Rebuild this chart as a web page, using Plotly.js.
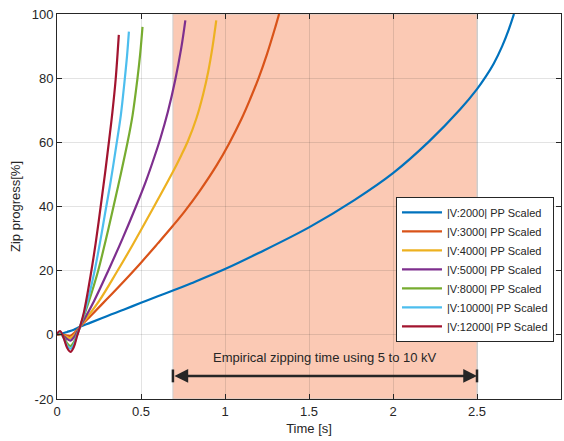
<!DOCTYPE html>
<html>
<head>
<meta charset="utf-8">
<script src="https://cdn.plot.ly/plotly-3.0.1.min.js"></script>
<style>
html,body{margin:0;padding:0;background:#fff;}
#chart{width:564px;height:441px;}
</style>
</head>
<body>
<div id="chart"></div>
<script>
// ---- data ----
const seriesNames = ["|V:2000| PP Scaled","|V:3000| PP Scaled","|V:4000| PP Scaled","|V:5000| PP Scaled","|V:8000| PP Scaled","|V:10000| PP Scaled","|V:12000| PP Scaled"];
const seriesColors = ["#0072BD","#D95319","#EDB120","#7E2F8E","#77AC30","#4DBEEE","#A2142F"];

const t2000 = [0,0.03,0.06,0.1,0.137,0.2,0.3,0.4,0.5,0.6,0.69,0.8,1.0,1.2,1.5,1.77,2.0,2.215,2.4,2.5,2.55,2.6,2.65,2.69,2.72];
const v2000 = [0,0.4,0.9,1.6,2.5,3.8,5.9,7.9,10.0,12.0,13.8,16.1,20.5,25.5,33.5,42,50.4,60.3,70.3,76.6,80.3,84.6,90,95.3,100];

const t3000 = [0,0.02,0.04,0.06,0.08,0.1,0.12,0.137,0.2,0.3,0.4,0.5,0.6,0.69,0.76,0.849,0.95,1.023,1.1,1.15,1.2,1.25,1.3,1.322];
const v3000 = [0,0.2,0,-0.2,-0.3,0.5,1.5,2.5,5.9,11.3,16.8,22.5,28.5,34,38.5,44.8,52.8,59.5,67.5,73.5,80,87.5,96,100];

const t4000 = [0,0.02,0.04,0.06,0.08,0.1,0.12,0.137,0.25,0.355,0.45,0.562,0.687,0.74,0.78,0.83,0.87,0.9,0.925,0.948];
const v4000 = [0,0.2,-0.2,-0.7,-1,-0.2,1.2,2.5,10.5,19.5,28,38.5,50.5,56,60.5,67.5,75,82,89.5,98];

const t5000 = [0,0.02,0.04,0.06,0.08,0.1,0.12,0.137,0.22,0.305,0.39,0.47,0.53,0.58,0.617,0.66,0.704,0.74,0.764];
const v5000 = [0,0.3,-0.4,-1.3,-1.8,-0.8,1,2.5,10.5,20,30,40,48,55.5,61.5,69.5,79.5,89.5,98];

const t8000 = [0,0.018,0.04,0.06,0.08,0.1,0.12,0.137,0.19,0.245,0.29,0.33,0.375,0.42,0.45,0.478,0.495,0.509];
const v8000 = [0.1,0.6,-0.8,-2.6,-3.5,-2.3,0.3,2.5,10.5,20,29.5,38.5,49,60,68.5,79.5,87.5,96];

const t10000 = [0,0.018,0.04,0.06,0.08,0.1,0.12,0.137,0.18,0.222,0.255,0.285,0.32,0.353,0.38,0.402,0.417,0.428];
const v10000 = [0.2,0.9,-1,-3.3,-4.3,-3,0,2.5,10,19.5,28.5,37.5,48,59,68.5,79,87,94.5];

const t12000 = [0,0.018,0.04,0.06,0.08,0.1,0.12,0.137,0.16,0.2,0.23,0.265,0.29,0.311,0.33,0.349,0.368];
const v12000 = [0.3,1.2,-1,-4,-5.3,-3.8,-0.3,2.5,7,18.5,28.5,42,52,61,69.5,79.5,93.5];

const seriesT = [t2000,t3000,t4000,t5000,t8000,t10000,t12000];
const seriesV = [v2000,v3000,v4000,v5000,v8000,v10000,v12000];

const xTickVals = [0,0.5,1,1.5,2,2.5,3];
const yTickVals = [-20,0,20,40,60,80,100];

const empiricalRange = [0.69, 2.5];
const arrowY = -12.8;
const arrowLabelY = -7;
const arrowLabel = "Empirical zipping time using 5 to 10 kV";

// ---- chart ----
const ink = "#262626";
const font = "Liberation Sans, Arial, Helvetica, sans-serif";

const traces = seriesNames.map((n,i)=>({
  type:"scatter", mode:"lines", name:n,
  x:seriesT[i], y:seriesV[i],
  line:{color:seriesColors[i], width:2.2, shape:"spline", smoothing:1}
}));

const axisCommon = {
  showline:true, linecolor:ink, linewidth:1, mirror:"ticks",
  ticks:"inside", ticklen:5, tickcolor:ink, tickwidth:1,
  showgrid:true, gridcolor:"rgba(38,38,38,0.13)", gridwidth:1,
  zeroline:false, tickfont:{family:font, size:13, color:ink}
};

const layout = {
  width:564, height:441,
  margin:{l:57, r:3, t:14, b:42},
  paper_bgcolor:"#fff", plot_bgcolor:"#fff",
  font:{family:font, color:ink},
  showlegend:true,
  xaxis:Object.assign({}, axisCommon, {
    range:[0,3], tickvals:xTickVals, ticktext:xTickVals.map(String),
    title:{text:"Time [s]", font:{family:font,size:13,color:ink}, standoff:6}
  }),
  yaxis:Object.assign({}, axisCommon, {
    range:[-20,100], tickvals:yTickVals, ticktext:yTickVals.map(String),
    title:{text:"Zip progress[%]", font:{family:font,size:13,color:ink}, standoff:8}
  }),
  legend:{
    x:0.6726, y:0.525, xanchor:"left", yanchor:"top",
    bgcolor:"#fff", bordercolor:ink, borderwidth:1,
    font:{family:font, size:11, color:ink},
    itemwidth:40, tracegroupgap:0
  },
  shapes:[
    {type:"rect", xref:"x", yref:"paper", x0:empiricalRange[0], x1:empiricalRange[1], y0:0, y1:1,
     fillcolor:"#FBC9B4", line:{color:"#cfcfcf", width:1}, layer:"below"},
    {type:"line", xref:"x", yref:"y", x0:empiricalRange[0], x1:empiricalRange[0], y0:arrowY-2, y1:arrowY+2,
     line:{color:ink, width:2.5}},
    {type:"line", xref:"x", yref:"y", x0:empiricalRange[1], x1:empiricalRange[1], y0:arrowY-2, y1:arrowY+2,
     line:{color:ink, width:2.5}}
  ],
  annotations:[
    {x:empiricalRange[1], y:arrowY, ax:empiricalRange[0], ay:arrowY, xref:"x", yref:"y", axref:"x", ayref:"y",
     text:"", showarrow:true, arrowhead:2, arrowside:"end+start", arrowsize:1.1, arrowwidth:2.5, arrowcolor:ink},
    {x:(empiricalRange[0]+empiricalRange[1])/2, y:arrowLabelY, xref:"x", yref:"y", text:arrowLabel,
     showarrow:false, font:{family:font, size:13, color:ink}}
  ]
};

Plotly.newPlot("chart", traces, layout, {staticPlot:true, displayModeBar:false});
</script>
</body>
</html>
